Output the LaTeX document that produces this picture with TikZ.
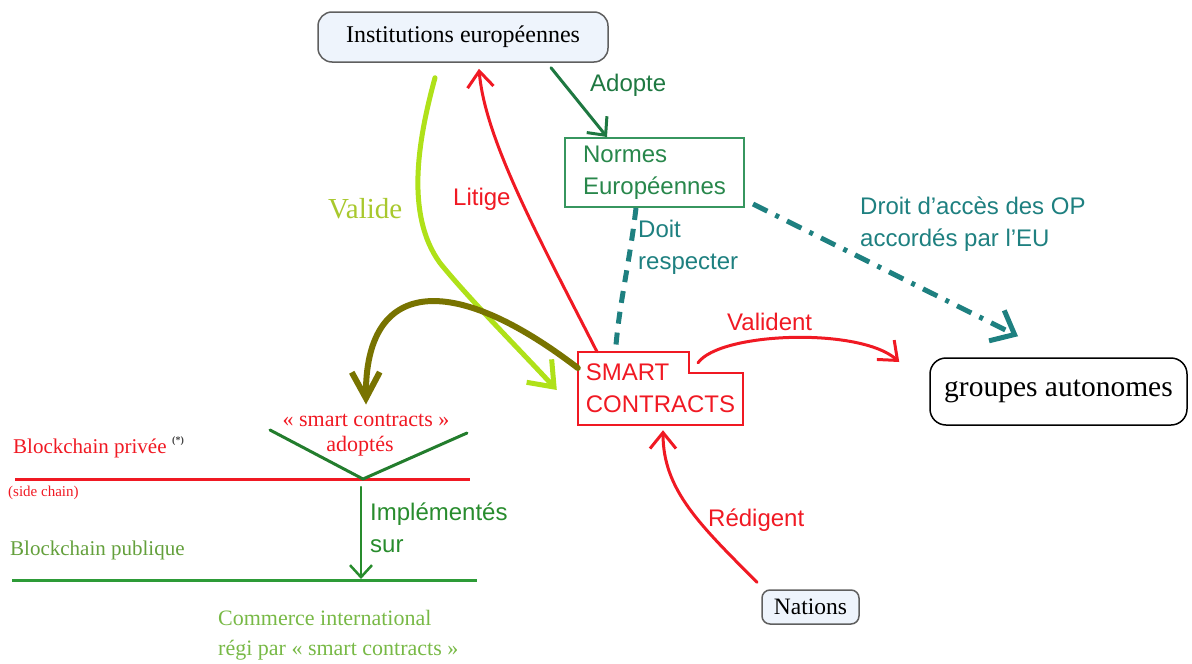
\documentclass[tikz,border=0pt]{standalone}
\usepackage{fontspec}
\setmainfont{Liberation Serif}
\setsansfont{Liberation Sans}
\usetikzlibrary{arrows.meta}
\definecolor{cred}{RGB}{240,25,35}
\definecolor{adoptgreen}{RGB}{30,120,65}
\definecolor{normborder}{RGB}{55,150,95}
\definecolor{normtext}{RGB}{40,135,75}
\definecolor{cteal}{RGB}{30,128,128}
\definecolor{clime}{RGB}{175,225,25}
\definecolor{validetext}{RGB}{168,200,45}
\definecolor{colive}{RGB}{120,115,0}
\definecolor{implgreen}{RGB}{40,140,45}
\definecolor{vgreen}{RGB}{35,125,45}
\definecolor{linegreen}{RGB}{45,155,55}
\definecolor{pubgreen}{RGB}{100,160,60}
\definecolor{comgreen}{RGB}{120,185,70}
\definecolor{instfill}{RGB}{238,244,252}
\definecolor{instborder}{RGB}{95,95,95}
\begin{document}
\begin{tikzpicture}[x=1pt,y=-1pt,
  sans/.style={font=\sffamily\fontsize{24}{32}\selectfont, inner sep=0pt, align=left},
  serifl/.style={font=\rmfamily\fontsize{21}{30}\selectfont, inner sep=0pt, align=left},
  roundbox/.style={draw=instborder, fill=instfill, line width=1.5pt},
  hand/.style={line cap=round, line join=round},
  adoptarrow/.style={hand, draw=adoptgreen, line width=3pt, -{Straight Barb[length=14pt,width=26pt]}},
  redarrow/.style={hand, draw=cred, line width=3pt, -{Straight Barb[length=16pt,width=26pt]}},
  limearrow/.style={hand, draw=clime, line width=5pt, -{Straight Barb[length=22pt,width=34pt]}},
  olivearrow/.style={hand, draw=colive, line width=6pt, -{Straight Barb[length=26pt,width=28pt]}},
  doitline/.style={draw=cteal, line width=5pt, dash pattern=on 12pt off 9pt},
  droitarrow/.style={draw=cteal, line width=5pt, dash pattern=on 16pt off 9pt on 4pt off 9pt, -{Straight Barb[length=20pt,width=34pt]}},
  implarrow/.style={hand, draw=implgreen, line width=2.5pt, -{Straight Barb[length=12pt,width=22pt]}}
]
\useasboundingbox (0,0) rectangle (1192,664);

% ---- nodes ----
\node[roundbox, rounded corners=14pt, minimum width=290pt, minimum height=50pt,
      font=\rmfamily\fontsize{24}{26}\selectfont] (inst) at (463,37) {Institutions européennes};
\node[draw=normborder, line width=2pt, minimum width=179pt, minimum height=69pt,
      sans, text=normtext, inner sep=0pt] (normes) at (654.5,172.5) {Normes\\Européennes};
\node[sans, text=cred, minimum width=165pt, minimum height=73pt, inner sep=0pt] (smart) at (660.5,388.5) {SMART\\CONTRACTS};
\draw[cred, line width=2.2pt]
  (578,352) -- (689,352) -- (689,373) -- (743,373) -- (743,425) -- (578,425) -- cycle;
\node[draw=black, line width=1.5pt, rounded corners=16pt, minimum width=257pt, minimum height=67pt,
      font=\rmfamily\fontsize{29.5}{31}\selectfont] (grp) at (1058.5,391.5) {groupes autonomes};
\node[roundbox, rounded corners=8pt, minimum width=97pt, minimum height=34pt,
      font=\rmfamily\fontsize{23.5}{25}\selectfont] (nat) at (810.5,607) {Nations};

% ---- labels ----
\node[sans, text=adoptgreen, anchor=west] (lad) at (590,85) {Adopte};
\node[sans, text=cred, anchor=west] (llit) at (453,199) {Litige};
\node[font=\rmfamily\fontsize{29}{31}\selectfont, inner sep=0pt, text=validetext, anchor=west] (lval) at (328,209) {Valide};
\node[sans, text=cteal, anchor=west] (ldoit) at (638,247) {Doit\\respecter};
\node[sans, text=cteal, anchor=west] (ldroit) at (860,224) {Droit d’accès des OP\\accordés par l’EU};
\node[sans, text=cred, anchor=west] (lvalid) at (727,322) {Valident};
\node[sans, text=cred, anchor=west] (lred) at (708,520) {Rédigent};
\node[sans, text=implgreen, anchor=west] (limpl) at (370,527.5) {Implémentés\\sur};

% ---- bottom left ----
\node[serifl, font=\rmfamily\fontsize{22}{30}\selectfont, text=cred] (sca) at (366,420) {« smart contracts »};
\node[serifl, font=\rmfamily\fontsize{22}{30}\selectfont, text=cred] (adp) at (360,446) {adoptés};
\node[serifl, text=cred, anchor=west] (bpriv) at (13,448) {Blockchain privée};
\node[font=\rmfamily\bfseries\fontsize{10}{11}\selectfont, inner sep=0pt, text=darkgray, anchor=west] (star) at (172,441) {(*)};
\node[font=\rmfamily\fontsize{15}{16}\selectfont, inner sep=0pt, text=cred, anchor=west] (side) at (8,493) {(side chain)};
\node[serifl, text=pubgreen, anchor=west] (bpub) at (10,550) {Blockchain publique};
\node[serifl, font=\rmfamily\fontsize{22}{30}\selectfont, text=comgreen, anchor=west] (com) at (218,635) {Commerce international\\régi par « smart contracts »};

\coordinate (rl1) at (15,479);  \coordinate (rl2) at (470,479);
\coordinate (gl1) at (12,580);  \coordinate (gl2) at (477,580);
\coordinate (vL) at (270,430);  \coordinate (vB) at (363,479); \coordinate (vR) at (467,433);
\coordinate (impS) at (361,487); \coordinate (impE) at (361,579);

\draw[cred, line width=3pt] (rl1) -- (rl2);
\draw[linegreen, line width=3pt] (gl1) -- (gl2);
\draw[vgreen, line width=3pt, hand] (vL) -- (vB) -- (vR);
\draw[implarrow] (impS) -- (impE);

% ---- connectors ----
\draw[adoptarrow] ([xshift=88pt,yshift=-5pt]inst.south) -- ([xshift=-47.5pt]normes.north);
\draw[redarrow] ([xshift=-63.5pt]smart.north) .. controls (540,240) and (485,140) .. ([xshift=16pt,yshift=-6pt]inst.south);
\draw[limearrow] ([xshift=-28pt,yshift=-15pt]inst.south) .. controls (418,140) and (405,215) .. (440,263)
   .. controls (470,300) and (520,350) .. ([xshift=-21pt,yshift=-1.5pt]smart.west);
\draw[olivearrow] ([yshift=20.5pt]smart.west) .. controls (450,270) and (365,280) .. ([yshift=9pt]sca.north);
\draw[doitline] ([xshift=-18.5pt]normes.south) .. controls (630,260) and (620,300) .. ([xshift=-44.5pt,yshift=7pt]smart.north);
\draw[droitarrow] ([xshift=8pt,yshift=4pt]normes.south east) -- ([xshift=-40.5pt,yshift=21pt]grp.north);
\draw[redarrow] ([xshift=37.5pt,yshift=-11pt]smart.north) .. controls (720,332) and (860,327) .. ([xshift=-30pt,yshift=29.5pt]grp.west);
\draw[redarrow] ([xshift=-53.5pt,yshift=7pt]nat.north) .. controls (700,525) and (663,490) .. ([xshift=2.5pt,yshift=-5pt]smart.south);
\end{tikzpicture}
\end{document}
